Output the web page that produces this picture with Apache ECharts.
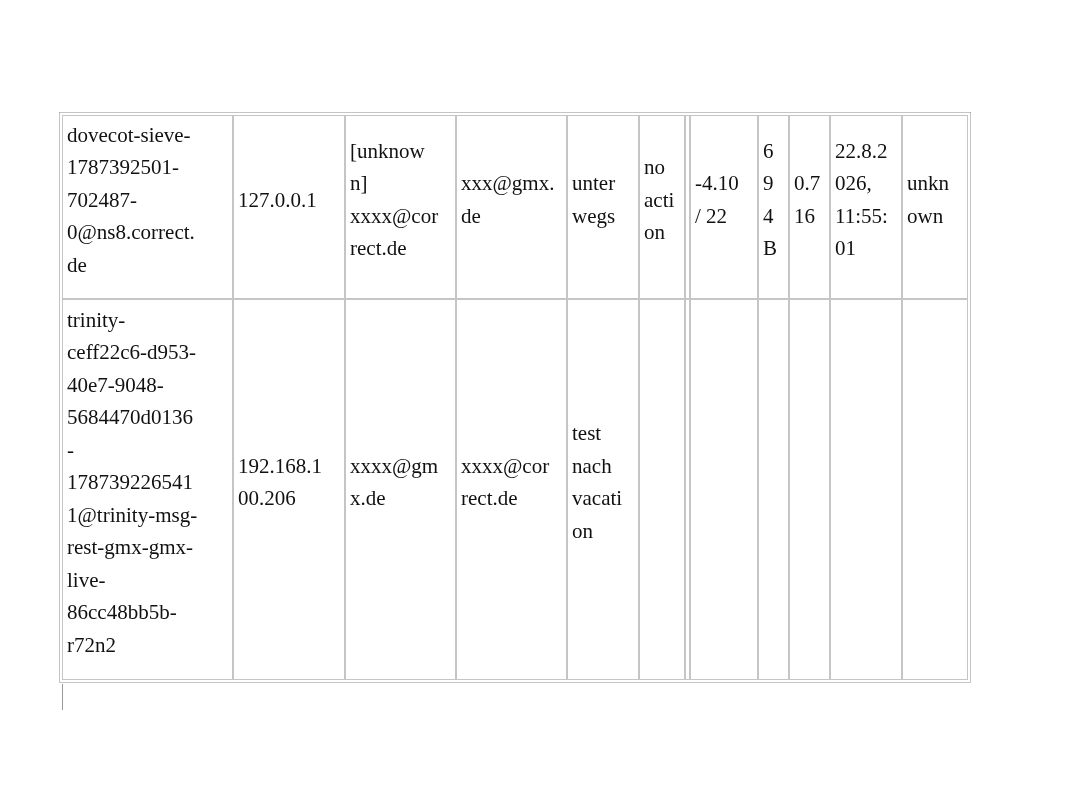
<!DOCTYPE html>
<html><head><meta charset="utf-8">
<script src="https://cdn.jsdelivr.net/npm/echarts@6/dist/echarts.min.js"></script>
<style>html,body{margin:0;background:#fff}#c{width:1078px;height:786px}</style></head>
<body><div id="c"></div>
<script>
const row1 = [
  ["dovecot-sieve-","1787392501-","702487-","0@ns8.correct.","de"],
  ["127.0.0.1"],
  ["[unknow","n]","xxxx@cor","rect.de"],
  ["xxx@gmx.","de"],
  ["unter","wegs"],
  ["no","acti","on"],
  [],
  ["-4.10","/ 22"],
  ["6","9","4","B"],
  ["0.7","16"],
  ["22.8.2","026,","11:55:","01"],
  ["unkn","own"]
];
const row2 = [
  ["trinity-","ceff22c6-d953-","40e7-9048-","5684470d0136","-","178739226541","1@trinity-msg-","rest-gmx-gmx-","live-","86cc48bb5b-","r72n2"],
  ["192.168.1","00.206"],
  ["xxxx@gm","x.de"],
  ["xxxx@cor","rect.de"],
  ["test","nach","vacati","on"],
  [],[],[],[],[],[],[]
];
const rows = [row1, row2];
const colX = [62,233,345,456,567,639,685,690,758,789,830,902,968];
const rowY = [115,299,680];

const chart = echarts.init(document.getElementById('c'));
const g = [];
const bs = {stroke:'#8a8a8a', lineWidth:1, lineDash:[1,1]};
function hline(y,x1,x2){g.push({type:'line',shape:{x1,y1:y,x2,y2:y},style:bs,silent:true});}
function vline(x,y1,y2){g.push({type:'line',shape:{x1:x,y1,x2:x,y2},style:bs,silent:true});}
const L=colX[0], R=colX[colX.length-1], T=rowY[0], B=rowY[rowY.length-1];
// outer double border
hline(T-2.5,L-2.5,R+2.5); hline(B+2.5,L-2.5,R+2.5);
vline(L-2.5,T-2.5,B+2.5); vline(R+2.5,T-2.5,B+2.5);
// cell borders (each cell its own inner rect)
for (let r=0;r<rows.length;r++){
  for (let c=0;c<colX.length-1;c++){
    const x1=colX[c]+0.5, x2=colX[c+1]-0.5, y1=rowY[r]+0.5, y2=rowY[r+1]-0.5;
    g.push({type:'rect',shape:{x:x1,y:y1,width:x2-x1,height:y2-y1},style:Object.assign({fill:null},bs),silent:true});
    const lines = rows[r][c];
    if (lines.length){
      const mid=(rowY[r]+rowY[r+1])/2 - 6;
      const lh=32.5;
      lines.forEach((t,i)=>{
        g.push({type:'text',x:colX[c]+5,y:mid+(i-(lines.length-1)/2)*lh,
          style:{text:t,fill:'#111',font:'21px "Liberation Serif"',textVerticalAlign:'middle',textAlign:'left'},silent:true});
      });
    }
  }
}
// cursor mark
g.push({type:'line',shape:{x1:62.5,y1:684,x2:62.5,y2:710},style:{stroke:'#999',lineWidth:1}});
chart.setOption({animation:false,graphic:g});
</script></body></html>
